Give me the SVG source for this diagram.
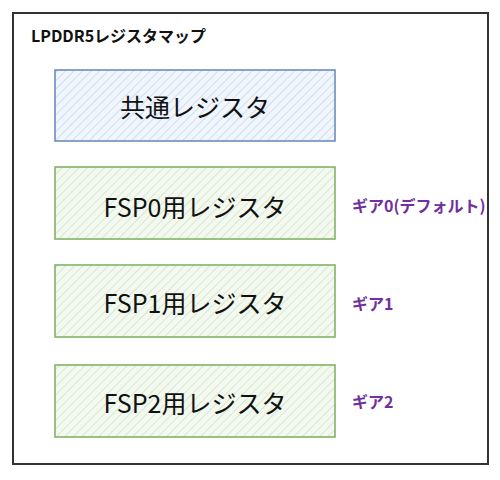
<svg xmlns="http://www.w3.org/2000/svg" width="500" height="480" viewBox="0 0 500 480">
<defs>
<pattern id="hb" width="6" height="6" patternUnits="userSpaceOnUse" patternTransform="rotate(45)">
<rect width="6" height="6" fill="#f1f6fd"/>
<line x1="0" y1="0" x2="0" y2="6" stroke="#bcd1ee" stroke-width="1.3"/>
</pattern>
<pattern id="hg" width="6" height="6" patternUnits="userSpaceOnUse" patternTransform="rotate(45)">
<rect width="6" height="6" fill="#f3f9f0"/>
<line x1="0" y1="0" x2="0" y2="6" stroke="#c6e1b9" stroke-width="1.3"/>
</pattern>
</defs>
<style>
.box{stroke-width:1.6}
.blue{fill:url(#hb);stroke:#6c8ebf}
.green{fill:url(#hg);stroke:#82b366}
.lbl{font-family:"Noto Sans CJK JP","Noto Sans",sans-serif;font-size:25px;fill:#111;text-anchor:middle;dominant-baseline:central}
.gear{font-family:"Noto Sans CJK JP","Noto Sans",sans-serif;font-size:16px;font-weight:bold;fill:#7030a0;dominant-baseline:central}
</style>
<rect x="13" y="13" width="475" height="451" fill="#fff" stroke="#333" stroke-width="2"/>
<text x="31" y="35" font-family="'Noto Sans CJK JP','Noto Sans',sans-serif" font-size="16" font-weight="bold" fill="#111" dominant-baseline="central">LPDDR5レジスタマップ</text>
<g id="common">
<rect class="box blue" x="55" y="70" width="280" height="71"/>
<text class="lbl" x="195" y="106">共通レジスタ</text>
</g>
<g id="fsp0">
<rect class="box green" x="55" y="167" width="280" height="72"/>
<text class="lbl" x="195" y="206">FSP0用レジスタ</text>
</g>
<g id="fsp1">
<rect class="box green" x="55" y="265" width="280" height="72"/>
<text class="lbl" x="195" y="302">FSP1用レジスタ</text>
</g>
<g id="fsp2">
<rect class="box green" x="55" y="365" width="280" height="72"/>
<text class="lbl" x="195" y="402">FSP2用レジスタ</text>
</g>
<g id="gear0"><text class="gear" x="352" y="205">ギア0(デフォルト)</text></g>
<g id="gear1"><text class="gear" x="352" y="303">ギア1</text></g>
<g id="gear2"><text class="gear" x="352" y="401">ギア2</text></g>
<g id="connectors"></g>
</svg>
